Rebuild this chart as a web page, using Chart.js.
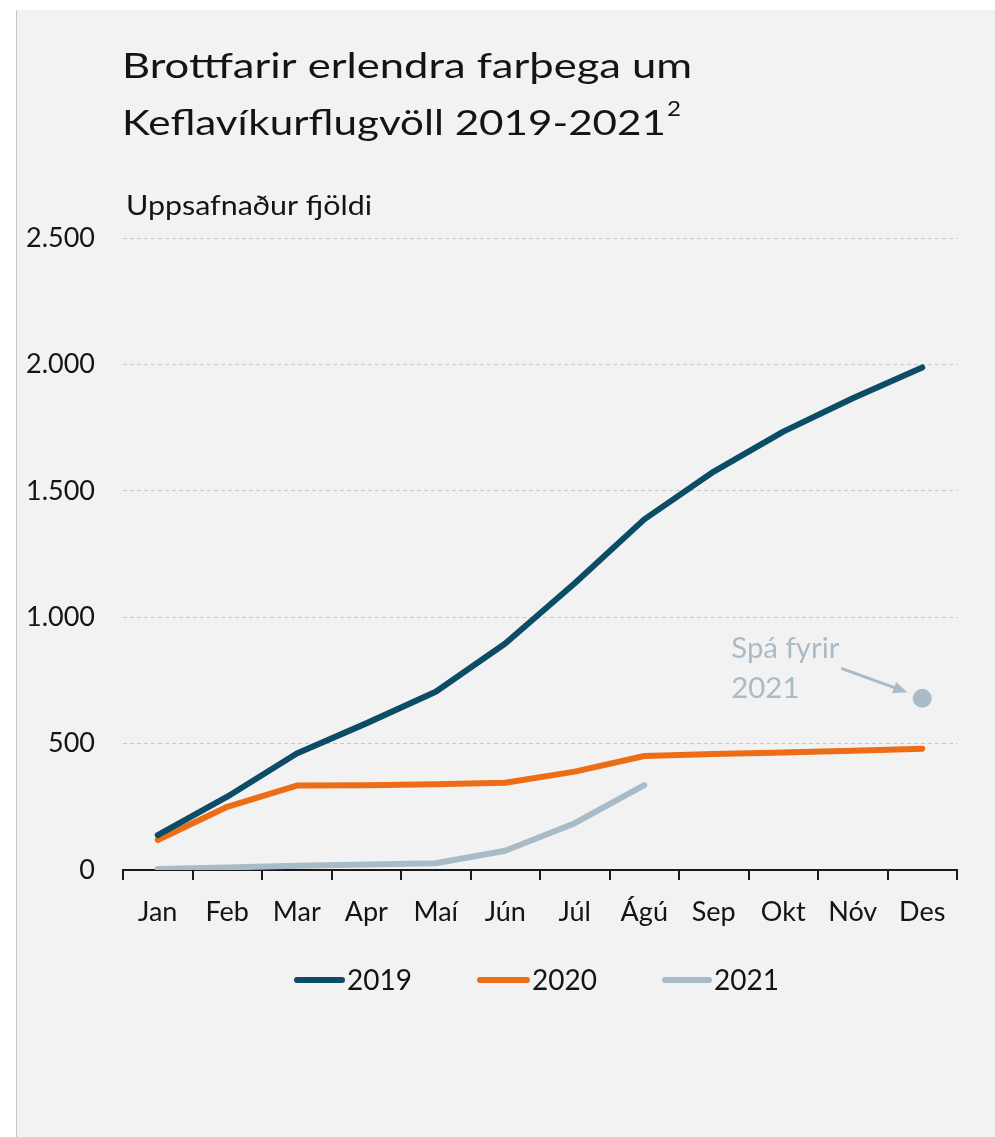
<!DOCTYPE html>
<html>
<head>
<meta charset="utf-8">
<script src="https://cdn.jsdelivr.net/npm/chart.js@4.4.1/dist/chart.umd.min.js"></script>
<style>
  html, body { margin: 0; padding: 0; background: #ffffff; }
  #wrap { position: absolute; left: 0; top: 0; width: 995px; height: 1137px; }
</style>
</head>
<body>
<div id="wrap"><canvas id="c" width="995" height="1137"></canvas></div>
<script>
const categories = ['Jan','Feb','Mar','Apr','Maí','Jún','Júl','Ágú','Sep','Okt','Nóv','Des'];
const series2019 = [138, 290, 461, 580, 705, 896, 1134, 1387, 1576, 1734, 1866, 1988];
const series2020 = [119, 250, 334, 335, 339, 345, 389, 451, 459, 465, 472, 480];
const series2021 = [4, 10, 17, 22, 27, 76, 185, 336, null, null, null, null];
const forecast2021 = [null, null, null, null, null, null, null, null, null, null, null, 679];
const yTicks = [0, 500, 1000, 1500, 2000, 2500];
const seriesLabels = ['2019', '2020', '2021'];
const titleLines = ['Brottfarir erlendra farþega um', 'Keflavíkurflugvöll 2019-2021'];
const titleSup = '2';
const yAxisTitle = 'Uppsafnaður fjöldi';
const forecastLabel = ['Spá fyrir', '2021'];

const C2019 = '#0b4c66';
const C2020 = '#ec6d15';
const C2021 = '#a8bbc7';
const FONT = 'Lato, "Open Sans", sans-serif';
const TXT = '#141414';

function fmt(v) { return String(v).replace(/\B(?=(\d{3})+(?!\d))/g, '.'); }

function stretchedText(ctx, text, x, y, sx) {
  ctx.save();
  ctx.translate(x, y);
  ctx.scale(sx, 1);
  ctx.fillText(text, 0, 0);
  const w = ctx.measureText(text).width * sx;
  ctx.restore();
  return w;
}

const decor = {
  id: 'decor',
  beforeDraw(chart) {
    const ctx = chart.ctx;
    ctx.save();
    ctx.fillStyle = '#ffffff';
    ctx.fillRect(0, 0, chart.width, chart.height);
    ctx.fillStyle = '#f2f2f2';
    ctx.fillRect(17, 10, chart.width - 17, chart.height - 10);
    ctx.strokeStyle = '#c4c4c4';
    ctx.lineWidth = 1;
    ctx.beginPath();
    ctx.moveTo(16.5, 10);
    ctx.lineTo(16.5, chart.height);
    ctx.stroke();
    ctx.restore();
  },
  afterDraw(chart) {
    const ctx = chart.ctx;
    const xs = chart.scales.x, ys = chart.scales.y;
    ctx.save();
    // Title
    ctx.fillStyle = TXT;
    ctx.textBaseline = 'alphabetic';
    ctx.textAlign = 'left';
    ctx.font = '34px ' + FONT;
    stretchedText(ctx, titleLines[0], 122, 78, 1.28);
    const w2 = stretchedText(ctx, titleLines[1], 122, 135, 1.24);
    ctx.font = '21px ' + FONT;
    stretchedText(ctx, titleSup, 122 + w2 + 1, 116, 1.15);
    // Y axis title
    ctx.font = '26px ' + FONT;
    stretchedText(ctx, yAxisTitle, 126, 215, 1.17);
    // Legend
    const legendY = 980;
    const items = [[294, 347], [477, 532], [662, 714]];
    ctx.font = '28px ' + FONT;
    ctx.textBaseline = 'middle';
    for (let i = 0; i < 3; i++) {
      const ds = chart.data.datasets[i];
      ctx.strokeStyle = ds.borderColor;
      ctx.lineWidth = 6;
      ctx.lineCap = 'round';
      ctx.beginPath();
      ctx.moveTo(items[i][0] + 3, legendY);
      ctx.lineTo(items[i][1] - 5, legendY);
      ctx.stroke();
      ctx.fillStyle = TXT;
      ctx.fillText(ds.label, items[i][1], legendY + 1);
    }
    // Forecast annotation
    const px = xs.getPixelForValue(11);
    const py = ys.getPixelForValue(forecast2021[11]);
    ctx.fillStyle = C2021;
    ctx.textBaseline = 'alphabetic';
    ctx.font = '28px ' + FONT;
    stretchedText(ctx, forecastLabel[0], px - 191, py - 40, 1.05);
    stretchedText(ctx, forecastLabel[1], px - 191, py, 1.05);
    // arrow
    const ax0 = px - 81, ay0 = py - 30, ax1 = px - 15, ay1 = py - 6;
    const ang = Math.atan2(ay1 - ay0, ax1 - ax0);
    ctx.strokeStyle = C2021;
    ctx.lineWidth = 3;
    ctx.lineCap = 'butt';
    ctx.beginPath();
    ctx.moveTo(ax0, ay0);
    ctx.lineTo(ax1 - 10 * Math.cos(ang), ay1 - 10 * Math.sin(ang));
    ctx.stroke();
    ctx.beginPath();
    ctx.moveTo(ax1, ay1);
    ctx.lineTo(ax1 - 14 * Math.cos(ang) + 6 * Math.sin(ang), ay1 - 14 * Math.sin(ang) - 6 * Math.cos(ang));
    ctx.lineTo(ax1 - 14 * Math.cos(ang) - 6 * Math.sin(ang), ay1 - 14 * Math.sin(ang) + 6 * Math.cos(ang));
    ctx.closePath();
    ctx.fill();
    ctx.restore();
  }
};

new Chart(document.getElementById('c'), {
  type: 'line',
  data: {
    labels: categories,
    datasets: [
      { label: seriesLabels[0], data: series2019, borderColor: C2019, backgroundColor: C2019 },
      { label: seriesLabels[1], data: series2020, borderColor: C2020, backgroundColor: C2020 },
      { label: seriesLabels[2], data: series2021, borderColor: C2021, backgroundColor: C2021 },
      { label: 'Spá 2021', data: forecast2021, showLine: false, pointRadius: 9.5,
        pointBackgroundColor: C2021, pointBorderWidth: 0, borderColor: C2021, backgroundColor: C2021 }
    ]
  },
  options: {
    responsive: false,
    devicePixelRatio: 1,
    animation: false,
    events: [],
    layout: { padding: { top: 238, left: 0, right: 38, bottom: 0 } },
    elements: {
      line: { borderWidth: 6, tension: 0, borderCapStyle: 'round', borderJoinStyle: 'round', spanGaps: false },
      point: { radius: 0 }
    },
    plugins: { legend: { display: false }, tooltip: { enabled: false }, title: { display: false } },
    scales: {
      x: {
        type: 'category',
        offset: true,
        afterFit(s) { s.height = 267; },
        grid: { offset: true, drawOnChartArea: false, drawTicks: true, tickLength: 10, color: '#1a1a1a', lineWidth: 2 },
        border: { display: true, color: '#1a1a1a', width: 2 },
        ticks: { color: TXT, font: { family: FONT, size: 27 }, padding: 16, maxRotation: 0, autoSkip: false }
      },
      y: {
        min: 0, max: 2500,
        afterFit(s) { s.width = 123; },
        afterBuildTicks(s) { s.ticks = yTicks.map(v => ({ value: v })); },
        grid: {
          drawTicks: false,
          color: (c) => c.tick && c.tick.value === 0 ? 'rgba(0,0,0,0)' : '#c8c8c8',
          lineWidth: 1
        },
        border: { display: false, dash: [4, 3] },
        ticks: { color: TXT, font: { family: FONT, size: 27 }, padding: 28, callback: (v) => fmt(v) }
      }
    }
  },
  plugins: [decor]
});
</script>
</body>
</html>
